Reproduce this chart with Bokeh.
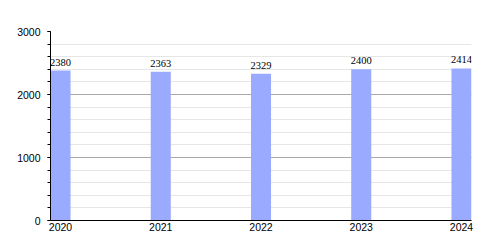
from bokeh.plotting import figure
from bokeh.models import ColumnDataSource, FixedTicker, Range1d, LabelSet
from bokeh.embed import file_html
from bokeh.resources import INLINE

years = [2020, 2021, 2022, 2023, 2024]
values = [2380, 2363, 2329, 2400, 2414]
labels = [str(v) for v in values]

FONT = "Liberation Sans"

src = ColumnDataSource(dict(x=years, top=values, label=labels))

p = figure(width=500, height=250, output_backend="svg", toolbar_location=None,
           x_range=Range1d(2019.9, 2024.1), y_range=Range1d(0, 3000),
           min_border_left=50, min_border_right=29, min_border_top=31, min_border_bottom=30)
p.outline_line_color = None
p.background_fill_color = "white"
p.border_fill_color = "white"

p.vbar(x="x", top="top", width=0.2, source=src, fill_color="#99aaff", line_color=None)

ls = LabelSet(x="x", y="top", text="label", source=src, text_align="center",
              text_baseline="bottom", y_offset=5, text_font_size="10.5px",
              text_font=FONT, text_color="black")
p.add_layout(ls)

# x axis
p.xaxis.ticker = FixedTicker(ticks=years)
p.xaxis.major_tick_line_color = None
p.xaxis.minor_tick_line_color = None
p.xaxis.major_tick_out = 0
p.xaxis.major_tick_in = 0
p.xaxis.axis_line_color = "black"
p.xaxis.major_label_text_font = FONT
p.xaxis.major_label_text_font_size = "10.5px"
p.xaxis.major_label_text_color = "black"
p.xaxis.major_label_standoff = 2
p.xgrid.grid_line_color = None

# y axis
p.yaxis.ticker = FixedTicker(ticks=[0, 1000, 2000, 3000],
                             minor_ticks=list(range(0, 3001, 200)))
p.yaxis.axis_line_color = "black"
p.yaxis.major_tick_line_color = "black"
p.yaxis.minor_tick_line_color = "black"
p.yaxis.major_tick_in = 0
p.yaxis.major_tick_out = 3
p.yaxis.minor_tick_in = 0
p.yaxis.minor_tick_out = 3
p.yaxis.major_label_text_font = FONT
p.yaxis.major_label_text_font_size = "10.5px"
p.yaxis.major_label_text_color = "black"
p.yaxis.major_label_standoff = 7
p.ygrid.grid_line_color = "#a8a8a8"
p.ygrid.minor_grid_line_color = "#e6e6e6"

open("out.html", "w").write(file_html(p, INLINE))
